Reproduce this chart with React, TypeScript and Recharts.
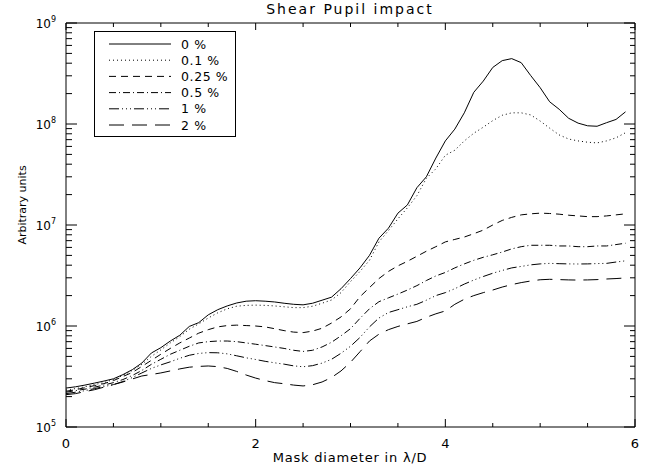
import { LineChart, Line, XAxis, YAxis } from 'recharts';

const W = 662;
const H = 472;
const FONT = '"DejaVu Sans", sans-serif';

// mask diameter, lambda/D
const X_VALUES = [
  0.0, 0.1, 0.2, 0.3, 0.4, 0.5, 0.6, 0.7, 0.8, 0.9,
  1.0, 1.1, 1.2, 1.3, 1.4, 1.5, 1.6, 1.7, 1.8, 1.9,
  2.0, 2.1, 2.2, 2.3, 2.4, 2.5, 2.6, 2.7, 2.8, 2.9,
  3.0, 3.1, 3.2, 3.3, 3.4, 3.5, 3.6, 3.7, 3.8, 3.9,
  4.0, 4.1, 4.2, 4.3, 4.4, 4.5, 4.6, 4.7, 4.8, 4.9,
  5.0, 5.1, 5.2, 5.3, 5.4, 5.5, 5.6, 5.7, 5.8, 5.9,
];

const SHEAR_0 = [
  2.43e5, 2.5e5, 2.6e5, 2.72e5, 2.85e5, 3.0e5, 3.3e5, 3.7e5, 4.3e5, 5.4e5,
  6.1e5, 7.1e5, 8.1e5, 9.9e5, 1.08e6, 1.29e6, 1.45e6, 1.58e6, 1.69e6, 1.76e6,
  1.78e6, 1.76e6, 1.73e6, 1.68e6, 1.64e6, 1.62e6, 1.68e6, 1.8e6, 1.93e6, 2.34e6,
  2.95e6, 3.76e6, 5.0e6, 7.4e6, 9.3e6, 1.31e7, 1.58e7, 2.34e7, 3.0e7, 4.6e7,
  6.8e7, 8.9e7, 1.29e8, 2.06e8, 2.66e8, 3.63e8, 4.24e8, 4.44e8, 4.05e8, 3.02e8,
  2.29e8, 1.66e8, 1.4e8, 1.14e8, 1.02e8, 9.6e7, 9.5e7, 1.03e8, 1.11e8, 1.32e8,
];

const SHEAR_01 = [
  2.32e5, 2.4e5, 2.5e5, 2.63e5, 2.75e5, 2.95e5, 3.24e5, 3.63e5, 4.17e5, 5.0e5,
  5.8e5, 6.8e5, 7.85e5, 9.3e5, 1.05e6, 1.2e6, 1.35e6, 1.48e6, 1.57e6, 1.6e6,
  1.61e6, 1.6e6, 1.58e6, 1.55e6, 1.52e6, 1.52e6, 1.57e6, 1.68e6, 1.81e6, 2.14e6,
  2.75e6, 3.47e6, 4.47e6, 6.8e6, 8.8e6, 1.15e7, 1.48e7, 1.95e7, 2.9e7, 3.6e7,
  4.9e7, 5.5e7, 6.8e7, 8.1e7, 9.3e7, 1.08e8, 1.22e8, 1.29e8, 1.29e8, 1.23e8,
  1.07e8, 9.1e7, 7.8e7, 7.1e7, 6.8e7, 6.6e7, 6.5e7, 6.8e7, 7.3e7, 8.2e7,
];

const SHEAR_025 = [
  2.26e5, 2.34e5, 2.45e5, 2.57e5, 2.69e5, 2.88e5, 3.16e5, 3.47e5, 3.98e5, 4.57e5,
  5.25e5, 6.0e5, 6.8e5, 7.6e5, 8.5e5, 9.2e5, 9.8e5, 1.01e6, 1.02e6, 1.01e6,
  1.0e6, 9.8e5, 9.4e5, 9.0e5, 8.7e5, 8.6e5, 8.9e5, 9.5e5, 1.07e6, 1.23e6,
  1.48e6, 1.95e6, 2.4e6, 2.95e6, 3.47e6, 3.94e6, 4.37e6, 4.9e6, 5.5e6, 6.1e6,
  6.8e6, 7.2e6, 7.6e6, 8.2e6, 8.9e6, 1.0e7, 1.11e7, 1.19e7, 1.26e7, 1.29e7,
  1.31e7, 1.3e7, 1.28e7, 1.25e7, 1.23e7, 1.21e7, 1.21e7, 1.23e7, 1.26e7, 1.29e7,
];

const SHEAR_05 = [
  2.21e5, 2.29e5, 2.37e5, 2.48e5, 2.6e5, 2.75e5, 2.95e5, 3.24e5, 3.63e5, 4.17e5,
  4.68e5, 5.25e5, 5.75e5, 6.3e5, 6.8e5, 7.0e5, 7.1e5, 7.1e5, 7.0e5, 6.8e5,
  6.6e5, 6.4e5, 6.2e5, 6.0e5, 5.75e5, 5.6e5, 5.75e5, 6.2e5, 6.9e5, 8.0e5,
  9.4e5, 1.19e6, 1.48e6, 1.74e6, 1.9e6, 2.07e6, 2.27e6, 2.51e6, 2.82e6, 3.13e6,
  3.39e6, 3.76e6, 4.12e6, 4.47e6, 4.79e6, 5.07e6, 5.4e6, 5.8e6, 6.1e6, 6.3e6,
  6.3e6, 6.3e6, 6.2e6, 6.2e6, 6.1e6, 6.1e6, 6.2e6, 6.2e6, 6.4e6, 6.6e6,
];

const SHEAR_1 = [
  2.14e5, 2.21e5, 2.29e5, 2.4e5, 2.51e5, 2.63e5, 2.82e5, 3.09e5, 3.43e5, 3.8e5,
  4.12e5, 4.42e5, 4.79e5, 5.13e5, 5.35e5, 5.45e5, 5.43e5, 5.3e5, 5.07e5, 4.84e5,
  4.66e5, 4.47e5, 4.32e5, 4.19e5, 4.03e5, 3.95e5, 4.05e5, 4.29e5, 4.68e5, 5.37e5,
  6.3e5, 7.7e5, 9.8e5, 1.2e6, 1.36e6, 1.45e6, 1.55e6, 1.64e6, 1.8e6, 2.0e6,
  2.14e6, 2.34e6, 2.6e6, 2.85e6, 3.09e6, 3.33e6, 3.55e6, 3.76e6, 3.89e6, 4.03e6,
  4.12e6, 4.17e6, 4.14e6, 4.12e6, 4.11e6, 4.12e6, 4.15e6, 4.17e6, 4.3e6, 4.42e6,
];

const SHEAR_2 = [
  2.09e5, 2.14e5, 2.24e5, 2.34e5, 2.48e5, 2.63e5, 2.79e5, 2.99e5, 3.2e5, 3.31e5,
  3.43e5, 3.59e5, 3.76e5, 3.91e5, 3.98e5, 4.02e5, 3.96e5, 3.8e5, 3.55e5, 3.27e5,
  3.05e5, 2.88e5, 2.75e5, 2.68e5, 2.6e5, 2.55e5, 2.62e5, 2.79e5, 3.09e5, 3.59e5,
  4.37e5, 5.56e5, 7.1e5, 8.3e5, 9.2e5, 9.9e5, 1.05e6, 1.11e6, 1.22e6, 1.32e6,
  1.41e6, 1.64e6, 1.84e6, 2.0e6, 2.14e6, 2.27e6, 2.43e6, 2.57e6, 2.69e6, 2.79e6,
  2.87e6, 2.9e6, 2.88e6, 2.86e6, 2.85e6, 2.86e6, 2.88e6, 2.92e6, 2.95e6, 2.99e6,
];

const SERIES = [
  { key: 's0', label: '0 %', values: SHEAR_0, dash: undefined },
  { key: 's01', label: '0.1 %', values: SHEAR_01, dash: '1 3' },
  { key: 's025', label: '0.25 %', values: SHEAR_025, dash: '7 5' },
  { key: 's05', label: '0.5 %', values: SHEAR_05, dash: '7 3 1 3' },
  { key: 's1', label: '1 %', values: SHEAR_1, dash: '10 3 1 3 1 3 1 3' },
  { key: 's2', label: '2 %', values: SHEAR_2, dash: '15 8' },
];

const X_TICKS = [0, 0.5, 1, 1.5, 2, 2.5, 3, 3.5, 4, 4.5, 5, 5.5, 6];
const X_LABELED = [0, 2, 4, 6];
const DECADES = [5, 6, 7, 8, 9];
const Y_TICKS = DECADES.flatMap((e) =>
  e === 9 ? [1e9] : [1, 2, 3, 4, 5, 6, 7, 8, 9].map((m) => m * Math.pow(10, e))
);

const data = X_VALUES.map((x, i) => {
  const row: Record<string, number> = { x };
  SERIES.forEach((s) => {
    row[s.key] = s.values[i];
  });
  return row;
});

const isDecade = (v: number) => Math.abs(Math.log10(v) - Math.round(Math.log10(v))) < 1e-6;

const BottomTick = (props: any) => {
  const { x, y, payload } = props;
  const v = payload.value;
  const major = X_LABELED.includes(v);
  return (
    <g>
      <line x1={x} x2={x} y1={y} y2={y - (major ? 8 : 4)} stroke="#000" />
      {major && (
        <text x={x} y={y + 21} textAnchor="middle" fontSize={13} fontFamily={FONT} fill="#000">
          {v}
        </text>
      )}
    </g>
  );
};

const TopTick = (props: any) => {
  const { x, y, payload } = props;
  const major = X_LABELED.includes(payload.value);
  return <line x1={x} x2={x} y1={y} y2={y + (major ? 7 : 4)} stroke="#000" />;
};

const LeftTick = (props: any) => {
  const { x, y, payload } = props;
  const v = payload.value;
  const major = isDecade(v);
  return (
    <g>
      <line x1={x} x2={x + (major ? 11 : 6)} y1={y} y2={y} stroke="#000" />
      {major && (
        <text x={x - 10} y={y + 5} textAnchor="end" fontSize={12} fontFamily={FONT} fill="#000">
          10
          <tspan dy={-6} fontSize={8}>
            {Math.round(Math.log10(v))}
          </tspan>
        </text>
      )}
    </g>
  );
};

const RightTick = (props: any) => {
  const { x, y, payload } = props;
  const major = isDecade(payload.value);
  return <line x1={x} x2={x - (major ? 11 : 5)} y1={y} y2={y} stroke="#000" />;
};

const LegendBox = () => (
  <div
    style={{
      position: 'absolute',
      left: 94,
      top: 31,
      width: 140,
      height: 104,
      border: '1px solid #000',
      background: '#fff',
    }}
  >
    <svg width={140} height={104}>
      {SERIES.map((s, i) => {
        const y = 12 + i * 16.2;
        return (
          <g key={s.key}>
            <line x1={14} x2={76} y1={y} y2={y} stroke="#000" strokeDasharray={s.dash} />
            <text x={86} y={y + 4.5} fontSize={12.5} letterSpacing={0.6} fontFamily={FONT} fill="#000">
              {s.label}
            </text>
          </g>
        );
      })}
    </svg>
  </div>
);

export default function App() {
  return (
    <div style={{ position: 'absolute', left: 0, top: 0, width: W, height: H, background: '#fff' }}>
      <LineChart
        width={W}
        height={H}
        data={data}
        margin={{ top: 22, right: 26, bottom: 44, left: 65 }}
      >
        <XAxis
          dataKey="x"
          type="number"
          domain={[0, 6]}
          ticks={X_TICKS}
          interval={0}
          height={1}
          tickSize={0}
          tickMargin={0}
          tickLine={false}
          tick={BottomTick}
          axisLine={{ stroke: '#000' }}
          allowDataOverflow
        />
        <XAxis
          xAxisId="top"
          orientation="top"
          dataKey="x"
          type="number"
          domain={[0, 6]}
          ticks={X_TICKS}
          interval={0}
          height={1}
          tickSize={0}
          tickMargin={0}
          tickLine={false}
          tick={TopTick}
          axisLine={{ stroke: '#000' }}
          allowDataOverflow
        />
        <YAxis
          type="number"
          scale="log"
          domain={[1e5, 1e9]}
          ticks={Y_TICKS}
          interval={0}
          width={1}
          tickSize={0}
          tickMargin={0}
          tickLine={false}
          tick={LeftTick}
          axisLine={{ stroke: '#000' }}
          allowDataOverflow
        />
        <YAxis
          yAxisId="right"
          orientation="right"
          type="number"
          scale="log"
          domain={[1e5, 1e9]}
          ticks={Y_TICKS}
          interval={0}
          width={1}
          tickSize={0}
          tickMargin={0}
          tickLine={false}
          tick={RightTick}
          axisLine={{ stroke: '#000' }}
          allowDataOverflow
        />
        {SERIES.map((s) => (
          <Line
            key={s.key}
            dataKey={s.key}
            type="linear"
            stroke="#000"
            strokeWidth={1}
            strokeDasharray={s.dash}
            dot={false}
            activeDot={false}
            isAnimationActive={false}
          />
        ))}
      </LineChart>
      <div
        style={{
          position: 'absolute',
          left: 0,
          width: 700,
          top: 1,
          textAlign: 'center',
          fontFamily: FONT,
          fontSize: 14,
          letterSpacing: 2,
          lineHeight: '16px',
        }}
      >
        Shear Pupil impact
      </div>
      <div
        style={{
          position: 'absolute',
          left: 0,
          width: 700,
          top: 450,
          textAlign: 'center',
          fontFamily: FONT,
          fontSize: 13,
          letterSpacing: 0.8,
        }}
      >
        Mask diameter in λ/D
      </div>
      <div
        style={{
          position: 'absolute',
          left: 22,
          top: 205,
          transform: 'translate(-50%, -50%) rotate(-90deg)',
          whiteSpace: 'nowrap',
          fontFamily: FONT,
          fontSize: 11,
        }}
      >
        Arbitrary units
      </div>
      <LegendBox />
    </div>
  );
}
